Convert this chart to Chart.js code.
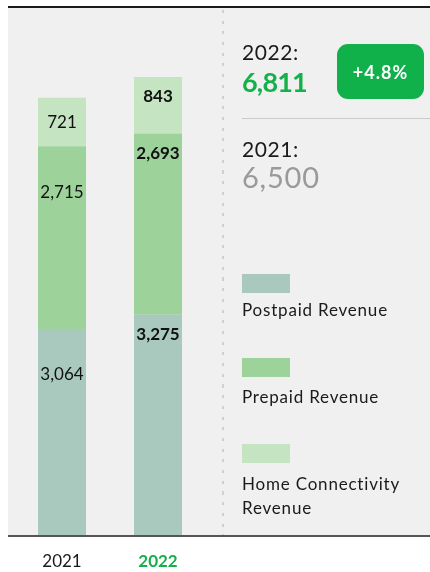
<!DOCTYPE html>
<html>
<head>
<meta charset="utf-8">
<script src="https://cdn.jsdelivr.net/npm/chart.js@4"></script>
<style>
  html, body { margin:0; padding:0; background:#fff; }
  #wrap { position:relative; width:430px; height:572px; font-family:Lato, "Open Sans", sans-serif; color:#1a1a1a; }
  #bg { position:absolute; left:8px; top:8px; width:422px; height:527px; background:#eff0ef; }
  #topline { position:absolute; left:8px; top:6px; width:422px; height:2px; background:#1a1a1a; }
  #botline { position:absolute; left:8px; top:535px; width:422px; height:2px; background:#555; }
  #dots { position:absolute; left:222px; top:10px; width:2px; height:525px;
    background:repeating-linear-gradient(to bottom, #cfd0cf 0 3px, transparent 3px 10.7px); }
  #plot { position:absolute; left:0; top:0; }
  .t { position:absolute; left:242px; white-space:nowrap; line-height:1; }
  #badge { position:absolute; left:337px; top:44px; width:87px; height:55px; border-radius:11px;
    background:#10b04b; color:#fff; font-size:18px; font-weight:bold; letter-spacing:1px;
    display:flex; align-items:center; justify-content:center; }
  #sep { position:absolute; left:242px; top:118px; width:188px; height:1px; background:#c9cac9; }
  .box { position:absolute; left:242px; width:48px; height:19px; }
</style>
</head>
<body>
<div id="wrap">
  <div id="bg"></div>
  <div id="topline"></div>
  <div id="dots"></div>
  <canvas id="plot" width="430" height="572"></canvas>
  <div id="botline"></div>
  <div id="panel"></div>
</div>
<script>
var years = ['2021', '2022'];
var postpaid = [3064, 3275];
var prepaid = [2715, 2693];
var homeConn = [721, 843];
var seriesNames = ['Postpaid Revenue', 'Prepaid Revenue', 'Home Connectivity Revenue'];
var seriesColors = ['#a9c9be', '#9dd39b', '#c4e4c2'];
var totals = [6500, 6811];
var growth = '+4.8%';

var green = '#14b04a';

function fmt(v){ return v.toLocaleString('en-US'); }

// labels inside the bar segments
var segLabels = {
  id: 'segLabels',
  afterDatasetsDraw: function(chart){
    var c = chart.ctx;
    c.save();
    c.textAlign = 'center';
    c.textBaseline = 'middle';
    c.fillStyle = '#111';
    chart.data.datasets.forEach(function(ds, di){
      var meta = chart.getDatasetMeta(di);
      meta.data.forEach(function(el, i){
        var h = el.base - el.y;
        var off = i == 0 ? Math.min(46, h / 2) : 20;
        c.font = (i == 0 ? 'normal ' : 'bold ') + '17px Lato, sans-serif';
        c.fillText(fmt(ds.data[i]), el.x, el.y + off);
      });
    });
    c.restore();
  }
};

var ctx = document.getElementById('plot').getContext('2d');
var myChart = new Chart(ctx, {
  type: 'bar',
  data: {
    labels: years,
    datasets: [
      { label: seriesNames[0], data: postpaid, backgroundColor: seriesColors[0] },
      { label: seriesNames[1], data: prepaid, backgroundColor: seriesColors[1] },
      { label: seriesNames[2], data: homeConn, backgroundColor: seriesColors[2] }
    ]
  },
  options: {
    responsive: false,
    animation: false,
    layout: { padding: { left: 14, right: 224, top: 7, bottom: 0 } },
    datasets: { bar: { barPercentage: 1, categoryPercentage: 0.5, borderWidth: 0 } },
    plugins: { legend: { display: false }, tooltip: { enabled: false } },
    scales: {
      x: {
        stacked: true,
        grid: { display: false, drawTicks: false },
        border: { display: false },
        afterFit: function(s){ s.height = 37; },
        ticks: {
          padding: 16,
          color: function(c){ return c.index == 1 ? green : '#1a1a1a'; },
          font: function(c){ return { family: 'Lato, sans-serif', size: 17, weight: c.index == 1 ? 'bold' : 'normal', lineHeight: 1.2 }; }
        }
      },
      y: {
        stacked: true,
        display: false,
        min: 0,
        max: 7850
      }
    }
  },
  plugins: [segLabels]
});

// right-hand summary + legend
var panel = document.getElementById('panel');
var html = '';
html += '<div class="t" style="top:41px;font-size:21px;letter-spacing:0.6px">' + years[1] + ':</div>';
html += '<div class="t" style="top:68px;font-size:27px;font-weight:bold;letter-spacing:-0.8px;color:' + green + '">' + fmt(totals[1]) + '</div>';
html += '<div id="badge">' + growth + '</div>';
html += '<div id="sep"></div>';
html += '<div class="t" style="top:138px;font-size:21px;letter-spacing:0.6px">' + years[0] + ':</div>';
html += '<div class="t" style="top:162px;font-size:29px;letter-spacing:0.8px;color:#9a9a9a">' + fmt(totals[0]) + '</div>';
var boxTops = [274, 358, 444];
var textTops = [298, 385, 472];
myChart.data.datasets.forEach(function(ds, i){
  html += '<div class="box" style="top:' + boxTops[i] + 'px;background:' + ds.backgroundColor + '"></div>';
  var words = ds.label.split(' ');
  var lbl = ds.label;
  if (words.length > 2) lbl = words.slice(0, 2).join(' ') + '<br>' + words.slice(2).join(' ');
  html += '<div class="t" style="top:' + textTops[i] + 'px;font-size:17px;line-height:24px;letter-spacing:0.8px">' + lbl + '</div>';
});
panel.innerHTML = html;
</script>
</body>
</html>
